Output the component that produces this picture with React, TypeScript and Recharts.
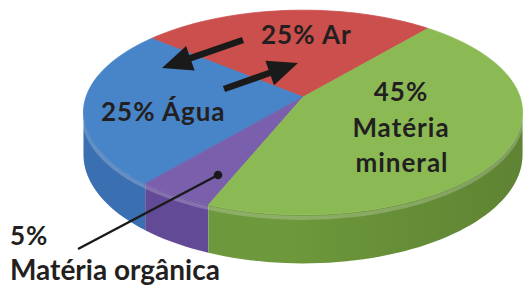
import { PieChart, Pie } from "recharts";

const categories = ["Ar", "Água", "Matéria orgânica", "Matéria mineral"];
const values = [25, 25, 5, 45];
const topColors = ["#CB4F4C", "#4784C8", "#7A5FAC", "#8BBA55"];
const sideColors = ["#A8403D", "#3A6FB2", "#634A97", "#6D983B"];

const data = categories.map((name, i) => ({
  name,
  value: values[i],
  fill: topColors[i],
  side: sideColors[i],
}));

// perspective settings for the tilted disc
const TILT = 0.4607; // vertical squash
const PERSP = 0.1514; // far side smaller
const DEPTH = 0.19; // thickness, in radius units

const proj = (cx: number, cy: number, r: number, deg: number, drop = 0) => {
  const t = (deg * Math.PI) / 180;
  const u = Math.cos(t);
  const v = Math.sin(t);
  const w = 1 + PERSP * v;
  return [cx + (r * u) / w, cy - (r * TILT * v) / w + (r * drop) / w];
};

const arcPts = (cx: number, cy: number, r: number, a: number, b: number, drop = 0) => {
  const pts: number[][] = [];
  const n = Math.max(2, Math.ceil(Math.abs(b - a) / 2));
  for (let i = 0; i <= n; i++) pts.push(proj(cx, cy, r, a + ((b - a) * i) / n, drop));
  return pts;
};

const toPath = (pts: number[][]) => pts.map((p, i) => `${i ? "L" : "M"}${p[0].toFixed(2)},${p[1].toFixed(2)}`).join(" ");

const Slice3D = (props: any) => {
  const { cx, cy, outerRadius, startAngle, endAngle, fill } = props;
  const side = props.side ?? props.payload?.side ?? fill;
  const s = Math.min(startAngle, endAngle);
  const e = Math.max(startAngle, endAngle);
  const edge = (Math.asin(PERSP) * 180) / Math.PI;
  const visA = Math.max(s, 180 + edge);
  const visB = Math.min(e, 360 - edge);
  const top = arcPts(cx, cy, outerRadius, s, e);
  let sidePath = null;
  let rim = null;
  if (visB > visA) {
    const upper = arcPts(cx, cy, outerRadius, visA, visB);
    const lower = arcPts(cx, cy, outerRadius, visB, visA, DEPTH);
    sidePath = toPath([...upper, ...lower]) + " Z";
    rim = toPath(arcPts(cx, cy, outerRadius, visA, visB, 0.012));
  }
  return (
    <g>
      {sidePath && <path d={sidePath} fill={side} />}
      {sidePath && <path d={sidePath} fill="url(#sideShade)" />}
      {rim && <path d={rim} fill="none" stroke="#ffffff" strokeOpacity={0.22} strokeWidth={4} />}
      <path d={`M${cx},${cy} ` + toPath(top).replace(/^M/, "L") + " Z"} fill={fill} stroke={fill} strokeWidth={0.8} />
    </g>
  );
};

const Arrow = ({ x1, y1, x2, y2 }: { x1: number; y1: number; x2: number; y2: number }) => {
  const dx = x2 - x1;
  const dy = y2 - y1;
  const len = Math.hypot(dx, dy);
  const ux = dx / len;
  const uy = dy / len;
  const hl = 30;
  const hw = 13;
  const bx = x2 - ux * hl;
  const by = y2 - uy * hl;
  return (
    <g>
      <line x1={x1} y1={y1} x2={bx + ux * 2} y2={by + uy * 2} stroke="#1a1a1a" strokeWidth={6.5} />
      <polygon
        points={`${x2},${y2} ${bx - uy * hw},${by + ux * hw} ${bx + uy * hw},${by - ux * hw}`}
        fill="#1a1a1a"
      />
    </g>
  );
};

const font = "Lato, 'Open Sans', sans-serif";

export default function App() {
  return (
    <div style={{ position: "absolute", left: 0, top: 0, width: 529, height: 288, background: "#fff" }}>
      <svg width={0} height={0} style={{ position: "absolute" }}>
        <defs>
          <linearGradient id="sideShade" x1="0" y1="0" x2="529" y2="0" gradientUnits="userSpaceOnUse">
            <stop offset="0%" stopColor="#000" stopOpacity={0} />
            <stop offset="55%" stopColor="#000" stopOpacity={0} />
            <stop offset="100%" stopColor="#000" stopOpacity={0.14} />
          </linearGradient>
        </defs>
      </svg>
      <PieChart width={529} height={288} margin={{ top: 0, right: 0, bottom: 0, left: 0 }}>
        <Pie
          data={data}
          dataKey="value"
          nameKey="name"
          cx={303}
          cy={97}
          outerRadius={217}
          startAngle={50}
          endAngle={410}
          stroke="none"
          isAnimationActive={false}
          shape={Slice3D}
          activeShape={Slice3D}
          inactiveShape={Slice3D}
        />
      </PieChart>
      <svg width={529} height={288} style={{ position: "absolute", left: 0, top: 0 }}>
        <Arrow x1={243} y1={40} x2={162} y2={68} />
        <Arrow x1={224} y1={89} x2={298} y2={63} />
        <line x1={78} y1={249} x2={218} y2={175} stroke="#1a1a1a" strokeWidth={2.5} />
        <circle cx={218} cy={175} r={4.3} fill="#1a1a1a" />
        <g fontFamily={font} fontWeight={700} fill="#231f20" fontSize={26} letterSpacing={1}>
          <text x={261} y={44}>25% Ar</text>
          <text x={101} y={121}>25% Água</text>
          <text x={401} y={101} textAnchor="middle">45%</text>
          <text x={401} y={137} textAnchor="middle">Matéria</text>
          <text x={402} y={172} textAnchor="middle">mineral</text>
          <text x={10} y={245}>5%</text>
          <text x={10} y={280} fontSize={28} letterSpacing={0}>Matéria orgânica</text>
        </g>
      </svg>
    </div>
  );
}
